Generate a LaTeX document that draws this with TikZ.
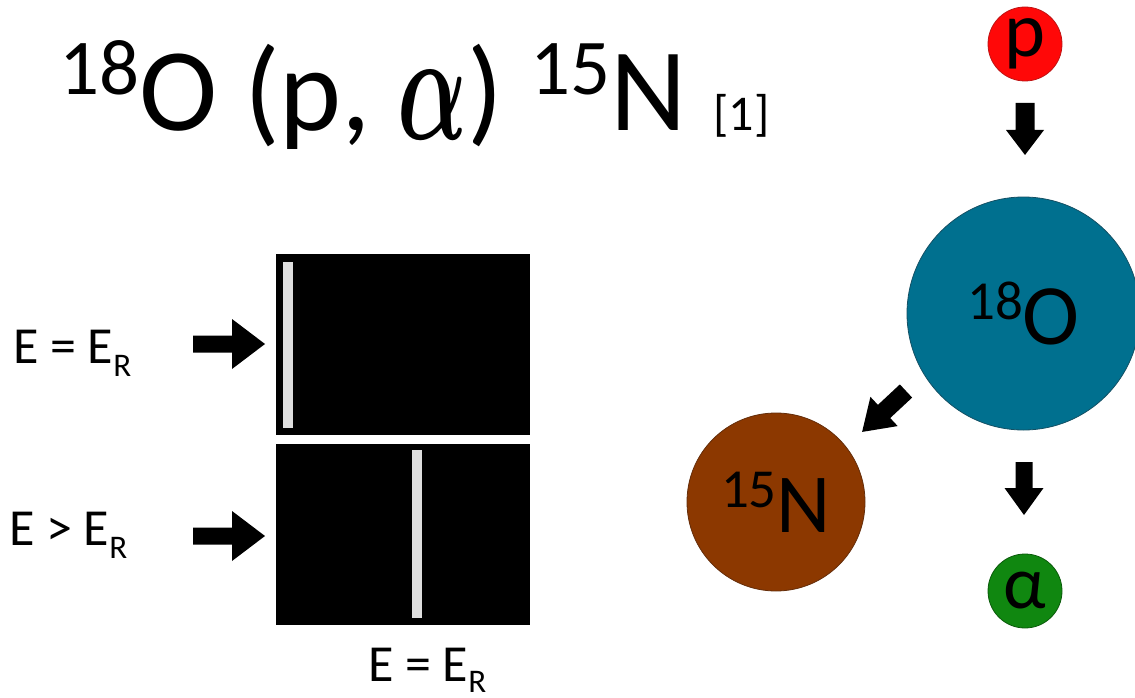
\documentclass[tikz,border=0pt]{standalone}
\usepackage{fontspec}
\setmainfont{Carlito}

\definecolor{protonred}{RGB}{255,8,8}
\definecolor{protonedge}{RGB}{190,20,20}
\definecolor{oxyteal}{RGB}{0,112,143}
\definecolor{oxyedge}{RGB}{20,80,100}
\definecolor{nitrobrown}{RGB}{140,56,0}
\definecolor{nitroedge}{RGB}{100,45,10}
\definecolor{alphagreen}{RGB}{16,135,16}
\definecolor{alphaedge}{RGB}{10,90,10}
\definecolor{barwhite}{RGB}{222,222,222}

% fat block arrow: tail centre x, y, angle, length, head start, shaft half width, head half width
\newcommand\blockarrow[7]{%
  \fill[black,shift={(#1,#2)},rotate=#3]
    (0,-#6) -- (#5,-#6) -- (#5,-#7) -- (#4,0) -- (#5,#7) -- (#5,#6) -- (0,#6) -- cycle;}

\newcommand\fsz[1]{\fontsize{#1}{#1}\selectfont}

\tikzset{
  x=1pt, y=-1pt,
  particle/.style={circle, inner sep=0pt, line width=0.8pt, text=black},
  label/.style={anchor=base west, inner sep=0pt, font=\fsz{52}},
  film/.style={fill=black},
  line image/.style={fill=barwhite}
}

\begin{document}
\begin{tikzpicture}
\useasboundingbox (0,0) rectangle (1135,698);

% title
\node[anchor=base west, inner sep=0pt] (title) at (59,131)
  {\fsz{118}\raisebox{36pt}{\fsz{79}18}O (p, \raisebox{-9pt}{\scalebox{9.2}[15.5]{\fsz{10}\boldmath$\alpha$}}) \raisebox{36pt}{\fsz{79}15}N {\fsz{50}[1]}};

% energy labels
\node[label] (eq) at (13,363) {E = E\raisebox{-13pt}{\fsz{33}R}};
\node[label] (gt) at (9,545) {E > E\raisebox{-13pt}{\fsz{33}R}};
\node[label] (eqb) at (368,681) {E = E\raisebox{-11pt}{\fsz{33}R}};

% detector images
\path[film] (276,254) rectangle (530,435);
\path[film] (276,444) rectangle (530,625);
\path[line image] (283,262) rectangle (293,428);
\path[line image] (412,450) rectangle (422,618);

% beam arrows
\blockarrow{193}{344}{0}{72}{39}{8.5}{25}
\blockarrow{193}{536}{0}{72}{39}{8.5}{25}

% reaction particles
\node[particle, fill=protonred, draw=protonedge, minimum size=74pt, font=\fsz{78}] (p) at (1025,44) {p};
\node[particle, fill=oxyteal, draw=oxyedge, minimum size=233pt] (O) at (1023.5,313.5)
  {\raisebox{25pt}{\fsz{55}18}\fsz{86}O};
\node[particle, fill=nitrobrown, draw=nitroedge, minimum size=178pt] (N) at (776,502)
  {\raisebox{25pt}{\fsz{55}15}\fsz{84}N};
\node[particle, fill=alphagreen, draw=alphaedge, minimum size=74pt, font=\fsz{75}] (a) at (1025,591) {α};

% reaction arrows
\blockarrow{1025}{103}{-90}{52}{27}{9.5}{19}
\blockarrow{906}{391}{-137}{60}{30}{9}{20}
\blockarrow{1024}{462}{-90}{53}{26}{8.5}{19.5}
\end{tikzpicture}
\end{document}
